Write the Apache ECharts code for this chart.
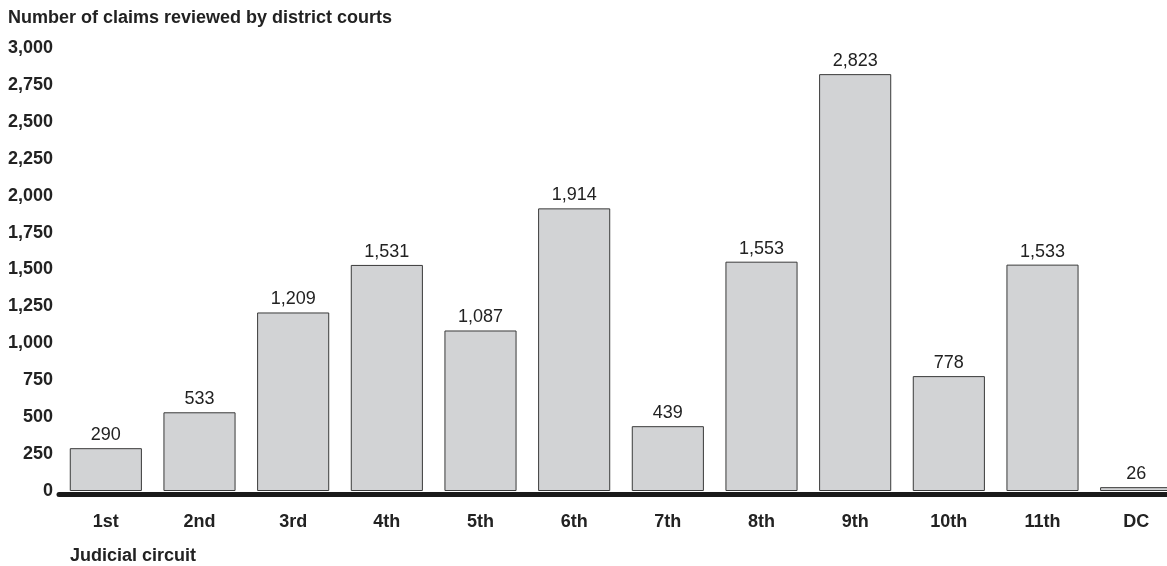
<!DOCTYPE html>
<html>
<head>
<meta charset="utf-8">
<script src="https://cdn.jsdelivr.net/npm/echarts@6/dist/echarts.min.js"></script>
<style>
  html, body { margin: 0; padding: 0; background: #fff; overflow: hidden; }
  /* the last bar runs off the right edge in the original, so the canvas is a bit wider than the window */
  #chart { width: 1190px; height: 566px; }
</style>
</head>
<body>
<div id="chart"></div>
<script>
const circuits = ["1st", "2nd", "3rd", "4th", "5th", "6th", "7th", "8th", "9th", "10th", "11th", "DC"];
const claims = [290, 533, 1209, 1531, 1087, 1914, 439, 1553, 2823, 778, 1533, 26];
const yTicks = [0, 250, 500, 750, 1000, 1250, 1500, 1750, 2000, 2250, 2500, 2750, 3000];

const fontFamily = "'Liberation Sans', Arial, sans-serif";
const fmt = (v) => Number(v).toLocaleString("en-US");

const chart = echarts.init(document.getElementById("chart"), null, { renderer: "canvas" });

chart.setOption({
  animation: false,
  textStyle: { fontFamily },
  title: [
    {
      text: "Number of claims reviewed by district courts",
      left: 8,
      top: 9,
      padding: 0,
      textStyle: { fontSize: 18, fontWeight: "bold", color: "#222", fontFamily },
    },
    {
      text: "Judicial circuit",
      left: 70,
      top: 547,
      padding: 0,
      textStyle: { fontSize: 18, fontWeight: "bold", color: "#222", fontFamily },
    },
  ],
  grid: {
    left: 59,
    top: 48,
    width: 1124,
    height: 443,
    containLabel: false,
  },
  xAxis: {
    type: "category",
    data: circuits,
    offset: 3,
    axisTick: { show: false },
    axisLine: { show: true, onZero: false, lineStyle: { color: "#1a1a1a", width: 5 } },
    axisLabel: {
      margin: 19,
      color: "#222",
      fontSize: 18,
      fontWeight: "bold",
      fontFamily,
    },
  },
  yAxis: {
    type: "value",
    min: yTicks[0],
    max: yTicks[yTicks.length - 1],
    interval: 250,
    axisLine: { show: false },
    axisTick: { show: false },
    splitLine: { show: false },
    axisLabel: {
      margin: 6,
      color: "#222",
      fontSize: 18,
      fontWeight: "bold",
      fontFamily,
      formatter: (v) => fmt(v),
    },
  },
  series: [
    {
      type: "bar",
      data: claims,
      barCategoryGap: "23%",
      itemStyle: {
        color: "#d2d3d5",
        borderColor: "#3a3a3a",
        borderWidth: 1,
      },
      label: {
        show: true,
        position: "top",
        distance: 4,
        color: "#222",
        fontSize: 18,
        fontFamily,
        formatter: (p) => fmt(p.value),
      },
    },
  ],
});
</script>
</body>
</html>
